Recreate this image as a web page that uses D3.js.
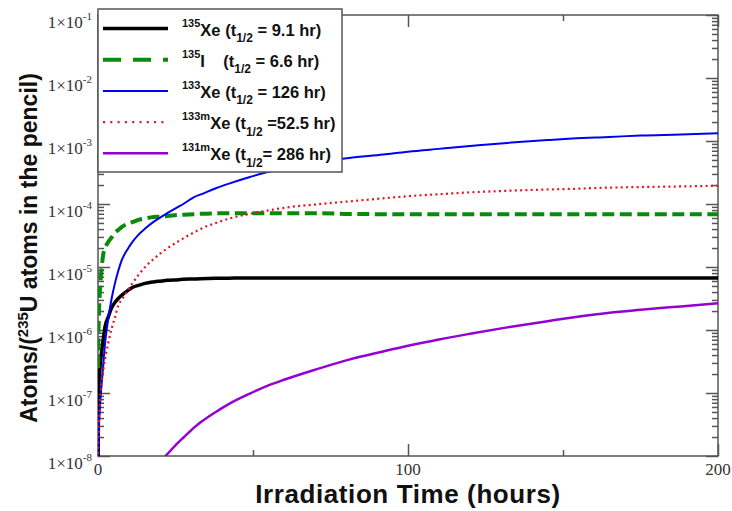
<!DOCTYPE html>
<html><head><meta charset="utf-8">
<script src="https://cdn.jsdelivr.net/npm/d3@7"></script>
<style>body{margin:0;background:#fff} svg{display:block} text{white-space:pre}</style>
</head><body><svg id="c" width="732" height="511"></svg>
<script>
// Irradiation time (hours)
const hours = [0.05,0.1,0.3,0.65,1.2,1.7,2.3,3.3,4.4,5.5,6.6,7.6,9.8,11.3,13,15.2,18,20.5,22.2,26,27.5,31,33,38,42,49,55,60,70,81,92,100,110,120,132,145,153,165,175,188,200];
// Atoms per 235U atom
const xe135 = [6e-9,2.5e-8,1.4e-7,2.5e-7,4.8e-7,7.1e-7,1.15e-6,1.6e-6,2.25e-6,2.75e-6,3.2e-6,3.55e-6,4.3e-6,4.8e-6,5.1e-6,5.5e-6,5.8e-6,6.0e-6,6.15e-6,6.3e-6,6.4e-6,6.45e-6,6.5e-6,6.6e-6,6.64e-6,6.7e-6,6.7e-6,6.7e-6,6.7e-6,6.7e-6,6.7e-6,6.7e-6,6.7e-6,6.7e-6,6.7e-6,6.7e-6,6.7e-6,6.7e-6,6.7e-6,6.7e-6,6.7e-6];
const i135 = [2.5e-7,6.3e-7,1.8e-6,4.5e-6,1.0e-5,1.6e-5,2.0e-5,2.5e-5,2.95e-5,3.5e-5,3.9e-5,4.3e-5,4.9e-5,5.2e-5,5.6e-5,5.9e-5,6.2e-5,6.3e-5,6.45e-5,6.7e-5,6.75e-5,6.9e-5,7.0e-5,7.1e-5,7.1e-5,7.15e-5,7.15e-5,7.15e-5,7.15e-5,6.95e-5,6.9e-5,6.9e-5,6.9e-5,6.9e-5,6.9e-5,6.9e-5,6.9e-5,6.9e-5,6.9e-5,6.9e-5,6.9e-5];
const xe133 = [8e-9,1.6e-8,3.2e-8,6.3e-8,1.45e-7,2.8e-7,6.3e-7,1.5e-6,3.16e-6,5.6e-6,8.9e-6,1.26e-5,2.0e-5,2.57e-5,3.24e-5,4.07e-5,5.25e-5,6.3e-5,7.08e-5,9.1e-5,1.0e-4,1.29e-4,1.41e-4,1.78e-4,2.09e-4,2.69e-4,3.24e-4,3.72e-4,4.57e-4,5.37e-4,6.1e-4,6.76e-4,7.5e-4,8.3e-4,9.33e-4,1.035e-3,1.096e-3,1.16e-3,1.22e-3,1.27e-3,1.33e-3];
const xe133m = [6e-9,1.4e-8,3.5e-8,7.8e-8,1.5e-7,2.3e-7,3.5e-7,6.2e-7,1.05e-6,1.6e-6,2.5e-6,3.0e-6,4.4e-6,5.7e-6,7.4e-6,1.0e-5,1.35e-5,1.7e-5,1.95e-5,2.57e-5,2.85e-5,3.55e-5,4.0e-5,5.0e-5,5.8e-5,7.0e-5,7.9e-5,8.7e-5,9.8e-5,1.1e-4,1.23e-4,1.33e-4,1.43e-4,1.53e-4,1.62e-4,1.7e-4,1.74e-4,1.82e-4,1.86e-4,1.9e-4,1.95e-4];
const xe131m = [null,null,null,null,null,null,null,null,null,null,null,null,null,null,null,null,null,8.5e-9,1.05e-8,1.66e-8,1.95e-8,2.82e-8,3.39e-8,5.0e-8,6.6e-8,9.8e-8,1.32e-7,1.62e-7,2.34e-7,3.39e-7,4.57e-7,5.62e-7,7.08e-7,8.71e-7,1.1e-6,1.38e-6,1.58e-6,1.88e-6,2.09e-6,2.37e-6,2.66e-6];

const xMajor = [0,100,200], xMinor = [50,150];
const yExponents = [-1,-2,-3,-4,-5,-6,-7,-8];

const series = [
  {iso:"135", sym:"Xe ", pre:"(t", post:" = 9.1 hr)", v:xe135, color:"#000000", w:3.5, dash:null, ldash:null},
  {iso:"135", sym:"I    ", pre:"(t", post:" = 6.6 hr)", v:i135, color:"#0a8a0a", w:4, dash:"12,5.5", ldash:"18,12"},
  {iso:"133", sym:"Xe ", pre:"(t", post:" = 126 hr)", v:xe133, color:"#0000f0", w:2, dash:null, ldash:null},
  {iso:"133m", sym:"Xe ", pre:"(t", post:" =52.5 hr)", v:xe133m, color:"#ee1020", w:2.2, dash:"2,3.3", ldash:"2,5.3"},
  {iso:"131m", sym:"Xe ", pre:"(t", post:"= 286 hr)", v:xe131m, color:"#9400d3", w:2.5, dash:null, ldash:null}
];

const L=98, R=718, T=15, B=456;
const svg = d3.select("#c");
const x = d3.scaleLinear().domain([0,200]).range([L,R]);
const y = d3.scaleLog().domain([1e-8,1e-1]).range([B,T]);
const frameCol = "#555";

// frame
svg.append("rect").attr("x",L).attr("y",T).attr("width",R-L).attr("height",B-T)
  .attr("fill","none").attr("stroke",frameCol).attr("stroke-width",1.5);

const yMinor = [];
for (let e=-8; e<-1; e++) for (let m=2; m<=9; m++) yMinor.push(m*Math.pow(10,e));
const yMajor = yExponents.map(e=>Math.pow(10,e));

function axis(gen, scale, tr, vals, size){
  svg.append("g").attr("transform",tr).attr("color",frameCol)
    .call(gen(scale).tickValues(vals).tickSize(size).tickFormat(""))
    .call(g=>{g.select(".domain").remove(); g.selectAll("line").attr("stroke-width",1.5);});
}
axis(d3.axisBottom, x, `translate(0,${B})`, xMajor, -12);
axis(d3.axisBottom, x, `translate(0,${B})`, xMinor, -6);
axis(d3.axisTop, x, `translate(0,${T})`, xMajor, -12);
axis(d3.axisTop, x, `translate(0,${T})`, xMinor, -6);
axis(d3.axisLeft, y, `translate(${L},0)`, yMajor, -12);
axis(d3.axisLeft, y, `translate(${L},0)`, yMinor, -6);
axis(d3.axisRight, y, `translate(${R},0)`, yMajor, -12);
axis(d3.axisRight, y, `translate(${R},0)`, yMinor, -6);

// tick labels
const serif = "'Liberation Serif','Times New Roman',serif";
xMajor.forEach(v=>{
  svg.append("text").attr("x",x(v)).attr("y",475).attr("text-anchor","middle")
    .attr("font-family",serif).attr("font-size",17).attr("fill","#333").text(v);
});
yExponents.forEach(e=>{
  const yy = y(Math.pow(10,e));
  const t = svg.append("text").attr("x",92).attr("y",yy+13).attr("text-anchor","end")
    .attr("font-family",serif).attr("font-size",17).attr("fill","#333");
  t.append("tspan").text("1×10");
  t.append("tspan").attr("dy",-8.5).attr("font-size",11).text(String(e));
});

// axis titles
const sans = "'Liberation Sans',Arial,Helvetica,sans-serif";
svg.append("text").attr("x",408).attr("y",503).attr("text-anchor","middle")
  .attr("font-family",sans).attr("font-weight","bold").attr("font-size",26).attr("letter-spacing",0.6).attr("fill","#111")
  .text("Irradiation Time (hours)");
const yt = svg.append("text").attr("transform","translate(37,248) rotate(-90)").attr("text-anchor","middle")
  .attr("font-family",sans).attr("font-weight","bold").attr("font-size",23).attr("fill","#111");
yt.append("tspan").text("Atoms/(");
yt.append("tspan").attr("dy",-9).attr("font-size",15).text("235");
yt.append("tspan").attr("dy",9).text("U atoms in the pencil)");

// curves
svg.append("clipPath").attr("id","clip").append("rect").attr("x",L).attr("y",T).attr("width",R-L).attr("height",B-T);
const gc = svg.append("g").attr("clip-path","url(#clip)");
series.forEach(s=>{
  const line = d3.line().curve(d3.curveMonotoneX).defined((d,i)=>s.v[i]!=null).x((d,i)=>x(hours[i])).y((d,i)=>y(s.v[i]));
  gc.append("path").attr("d",line(hours)).attr("fill","none").attr("stroke",s.color)
    .attr("stroke-width",s.w).attr("stroke-dasharray",s.dash).attr("stroke-linejoin","round");
});

// legend
const lg = svg.append("g");
lg.append("rect").attr("x",98).attr("y",9).attr("width",244).attr("height",163)
  .attr("fill","#fff").attr("stroke",frameCol).attr("stroke-width",1.5);
series.forEach((s,i)=>{
  const ry = 28.5 + i*31.2;
  lg.append("line").attr("x1",103).attr("x2",168).attr("y1",ry).attr("y2",ry)
    .attr("stroke",s.color).attr("stroke-width",s.w).attr("stroke-dasharray",s.ldash);
  const t = lg.append("text").attr("x",182).attr("y",ry+7)
    .attr("font-family",sans).attr("font-weight","bold").attr("font-size",16.5).attr("fill","#111");
  t.append("tspan").attr("dy",-9).attr("font-size",11).text(s.iso);
  t.append("tspan").attr("dy",9).text(s.sym);
  t.append("tspan").text(s.pre);
  t.append("tspan").attr("dy",6.5).attr("font-size",12).text("1/2");
  t.append("tspan").attr("dy",-6.5).text(s.post);
});
</script>
</body></html>
